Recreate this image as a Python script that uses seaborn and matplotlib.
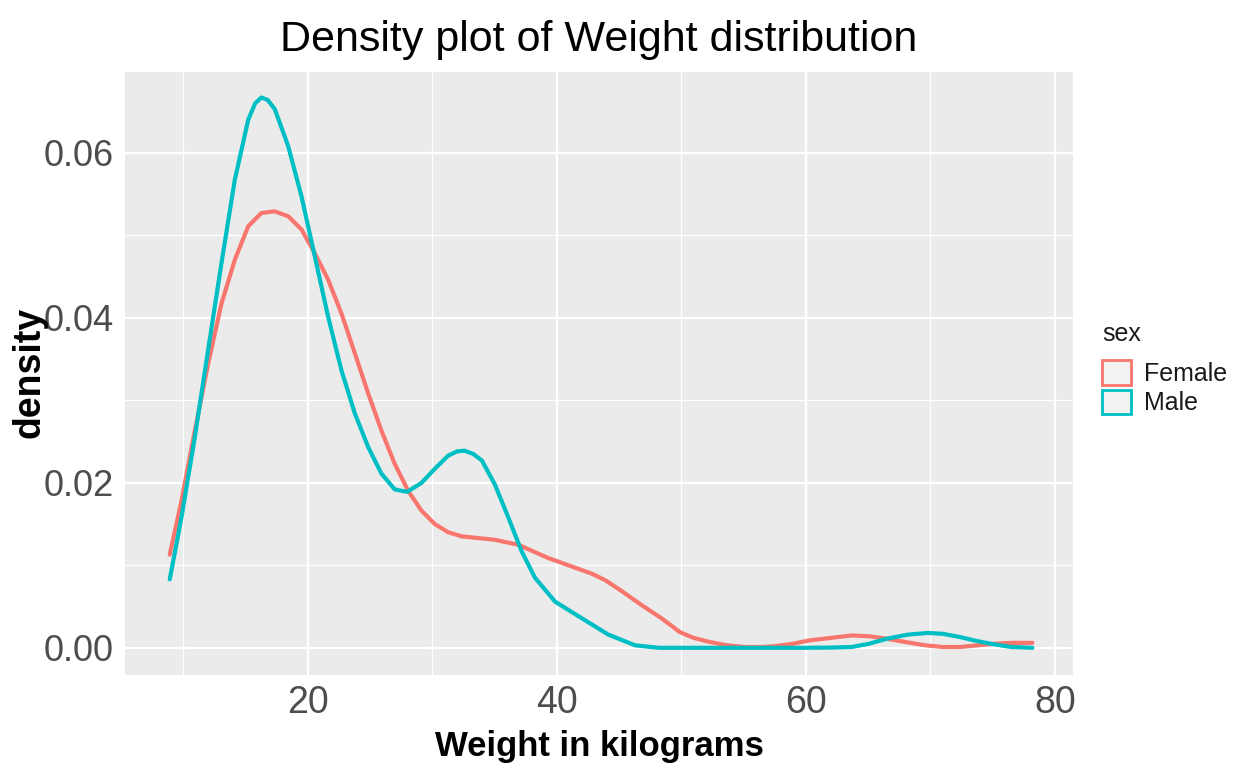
import numpy as np
import pandas as pd
import matplotlib
matplotlib.use('Agg')
import matplotlib.pyplot as plt
import seaborn as sns
from matplotlib.patches import Patch
from matplotlib.ticker import MultipleLocator

# Density curves
female_weight = [8.94, 9.88, 10.95, 12.02, 13.09, 14.16, 15.24, 16.3, 17.37, 18.45,
                 19.52, 20.59, 21.66, 22.73, 23.8, 24.88, 25.94, 27.0, 28.09, 29.16,
                 30.22, 31.3, 32.4, 33.7, 35.0, 36.9, 38.1, 39.3, 41.5, 42.8, 43.9,
                 45.2, 46.8, 48.4, 49.9, 51.0, 52.3, 53.7, 55.1, 56.5, 57.5, 59.0,
                 60.3, 62.0, 63.7, 65.1, 66.5, 68.0, 69.6, 71.0, 72.4, 73.8, 75.2,
                 76.5, 78.2]
female_density = [0.0113, 0.0178, 0.0263, 0.0344, 0.0417, 0.0470, 0.0511, 0.0527,
                  0.0529, 0.0523, 0.0507, 0.0478, 0.0446, 0.0405, 0.0357, 0.0308,
                  0.0263, 0.0223, 0.0190, 0.0166, 0.0150, 0.0140, 0.0135, 0.0133,
                  0.0131, 0.0125, 0.0117, 0.0109, 0.0097, 0.0090, 0.0082, 0.0069,
                  0.0052, 0.0036, 0.0019, 0.0012, 0.0007, 0.0003, 0.0001, 0.0001,
                  0.0002, 0.0005, 0.0009, 0.0012, 0.0015, 0.0014, 0.0011, 0.0007,
                  0.0003, 0.0001, 0.0001, 0.0003, 0.0005, 0.0006, 0.0006]

male_weight = [8.94, 9.88, 10.95, 12.02, 13.09, 14.16, 15.24, 15.8, 16.3, 16.8,
               17.37, 18.45, 19.52, 20.59, 21.66, 22.73, 23.8, 24.88, 25.94, 27.0,
               28.0, 29.16, 30.22, 31.3, 32.0, 32.6, 33.3, 34.0, 35.04, 36.12, 37.19,
               38.26, 39.87, 42.0, 44.15, 46.3, 48.2, 52.0, 56.0, 60.0, 62.0, 63.7,
               65.1, 66.5, 68.2, 69.8, 71.0, 72.4, 73.8, 75.2, 76.5, 78.2]
male_density = [0.0083, 0.0158, 0.0255, 0.0361, 0.0466, 0.0567, 0.0640, 0.0660,
                0.0667, 0.0664, 0.0653, 0.0608, 0.0547, 0.0474, 0.0401, 0.0336,
                0.0284, 0.0243, 0.0211, 0.0192, 0.0189, 0.0200, 0.0217, 0.0233,
                0.0238, 0.0239, 0.0235, 0.0227, 0.0198, 0.0158, 0.0117, 0.0085,
                0.0056, 0.0036, 0.0016, 0.0003, 0.0000, 0.0000, 0.0000, 0.0000,
                0.00003, 0.0001, 0.0005, 0.0011, 0.0016, 0.0018, 0.0017, 0.0013,
                0.0008, 0.0004, 0.0001, 0.0000]

sex_levels = ['Female', 'Male']
sex_colors = {'Female': '#F8766D', 'Male': '#00BFC4'}

df = pd.concat([
    pd.DataFrame({'weight': female_weight, 'density': female_density, 'sex': 'Female'}),
    pd.DataFrame({'weight': male_weight, 'density': male_density, 'sex': 'Male'}),
], ignore_index=True)

sns.set_style('darkgrid')
plt.rcParams['font.family'] = ['Liberation Sans', 'DejaVu Sans']

fig = plt.figure(figsize=(12.44, 7.65), dpi=100)
ax = fig.add_axes([0.1005, 0.1176, 0.762, 0.7884])
ax.set_facecolor('#EBEBEB')

sns.lineplot(data=df, x='weight', y='density', hue='sex', hue_order=sex_levels,
             palette=sex_colors, linewidth=3.0, sort=False, legend=False, ax=ax)

# ggplot-like limits (5% expansion)
ax.set_xlim(5.35, 81.45)
ax.set_ylim(-0.0033, 0.0698)
ax.xaxis.set_major_locator(MultipleLocator(20))
ax.xaxis.set_minor_locator(MultipleLocator(10))
ax.yaxis.set_major_locator(MultipleLocator(0.02))
ax.yaxis.set_minor_locator(MultipleLocator(0.01))
ax.set_yticklabels([f'{v:.2f}' for v in ax.get_yticks()])

ax.grid(which='major', color='white', linewidth=1.6)
ax.grid(which='minor', color='white', linewidth=0.8)
ax.set_axisbelow(True)
for s in ax.spines.values():
    s.set_visible(False)

ax.tick_params(which='major', length=4, width=1, color='#333333',
               labelsize=27, labelcolor='#4D4D4D', pad=3)
ax.tick_params(axis='y', which='major', labelsize=26, pad=4)
ax.tick_params(which='minor', length=0)

ax.set_xlabel('Weight in kilograms', fontsize=25, fontweight='bold', labelpad=7, color='black')
ax.set_ylabel('density', fontsize=27, fontweight='bold', color='black')
ax.yaxis.set_label_coords(-0.082, 0.502)
ax.set_title('Density plot of Weight distribution', fontsize=31, pad=15, color='black')

handles = [Patch(facecolor='#F2F2F2', edgecolor=sex_colors[s], linewidth=2) for s in sex_levels]
leg = fig.legend(handles, sex_levels, title='sex', loc='upper left',
                 bbox_to_anchor=(1092 / 1244, 1 - 312 / 765), frameon=False,
                 fontsize=18, title_fontsize=18, handlelength=1.15, handleheight=1.15,
                 handletextpad=0.55, labelspacing=0.15, borderaxespad=0)
leg._legend_box.align = 'left'
leg._legend_box.sep = 10
leg.get_title().set_color('#1A1A1A')
for t in leg.get_texts():
    t.set_color('#1A1A1A')

fig.savefig('out.png', dpi=100, facecolor='white')
